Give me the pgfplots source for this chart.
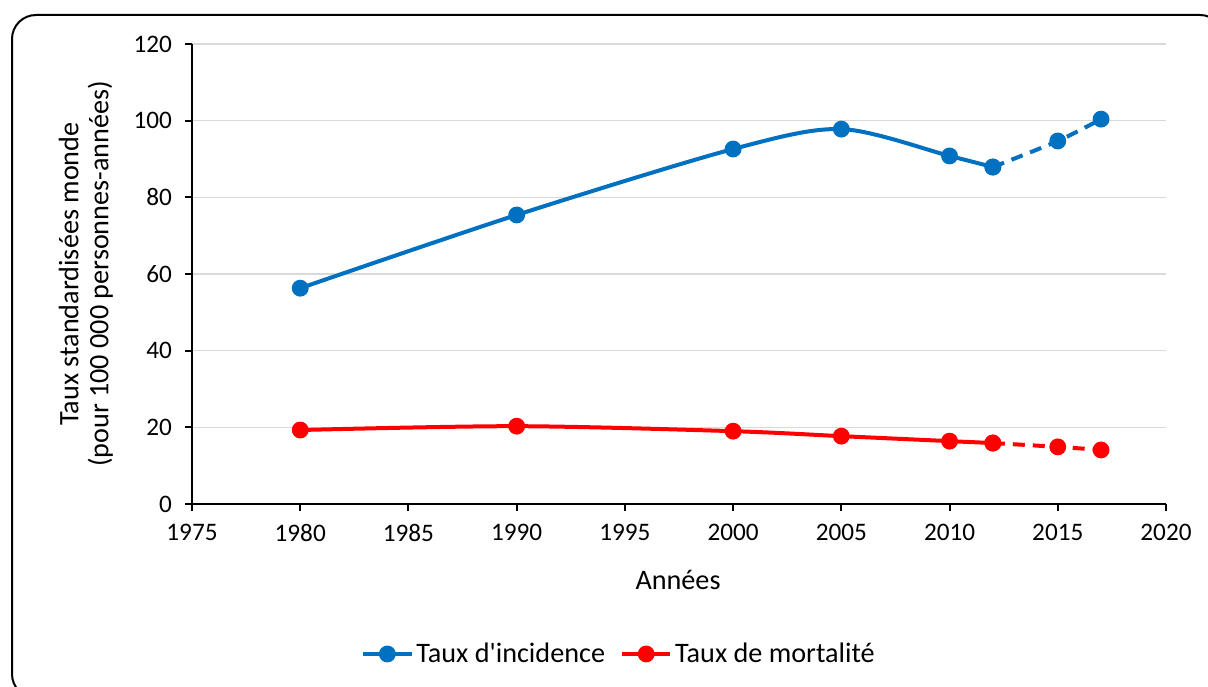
\documentclass[border=0pt]{standalone}
\usepackage{pgfplots}
\pgfplotsset{compat=1.18}
\usepackage{fontspec}
\setmainfont{Carlito}
\definecolor{cblue}{HTML}{0070C0}
\definecolor{cred}{HTML}{FF0000}
\definecolor{cgrid}{HTML}{D9D9D9}
\newcommand{\fs}{\fontsize{12.6}{15.1}\selectfont}
\newcommand{\fl}{\fontsize{14.1}{15}\selectfont}
\begin{document}
\begin{tikzpicture}[x=1pt,y=1pt]
\draw[line width=1pt, rounded corners=12pt] (6,-6) rectangle (612,335.5);
\begin{axis}[
  at={(96pt,91pt)}, anchor=south west,
  scale only axis, width=487pt, height=230pt,
  xmin=1975, xmax=2020, ymin=0, ymax=120,
  xtick={1975,1980,...,2020}, ytick={0,20,...,120},
  axis lines*=left,
  axis line style={line width=1pt, black},
  tick align=outside, major tick length=3.5pt,
  tick style={line width=1pt, black},
  ymajorgrids, grid style={cgrid, line width=0.75pt},
  /pgf/number format/assume math mode=true,
  /pgf/number format/1000 sep={},
  ticklabel style={font=\fs},
  xticklabel style={yshift=-3pt},
  yticklabel style={xshift=-3pt},
  xlabel={Années},
  ylabel={Taux standardisées monde\\(pour 100 000 personnes-années)},
  every axis x label/.style={at={(axis description cs:0.499,-0.165)}, anchor=center, font=\fl},
  every axis y label/.style={at={(axis description cs:-0.109,0.5)}, rotate=90, anchor=center, align=center, font=\fl},
  legend columns=2,
  legend style={at={(axis description cs:0.439,-0.326)}, anchor=center, draw=none, font=\fl,
    nodes={inner xsep=1.5pt},
    /tikz/every even column/.append style={column sep=6pt}},
  legend image code/.code={\draw[mark repeat=2,mark phase=2,#1] plot coordinates {(0pt,0pt) (12pt,0pt) (24pt,0pt)};},
  every axis plot/.append style={line width=2pt, mark=*, mark size=3.2pt},
]
\addplot[cblue, smooth, tension=0.5, mark options={fill=cblue}] coordinates {
(1980,56.3) (1990,75.4) (2000,92.6) (2005,97.8) (2010,90.8) (2012,87.9)};
\addlegendentry{Taux d\textquotesingle incidence}
\addplot[cred, smooth, tension=0.5, mark options={fill=cred}] coordinates {
(1980,19.3) (1990,20.3) (2000,19.0) (2005,17.7) (2010,16.4) (2012,15.9)};
\addlegendentry{Taux de mortalité}
\addplot[cblue, smooth, tension=0.5, dash pattern=on 6pt off 4pt, mark options={fill=cblue, solid}, forget plot] coordinates {
(2012,87.9) (2015,94.7) (2017,100.4)};
\addplot[cred, smooth, tension=0.5, dash pattern=on 6pt off 4pt, mark options={fill=cred, solid}, forget plot] coordinates {
(2012,15.9) (2015,14.9) (2017,14.1)};
\end{axis}
\pgfresetboundingbox
\useasboundingbox (0,0) rectangle (604,343);
\end{tikzpicture}
\end{document}
